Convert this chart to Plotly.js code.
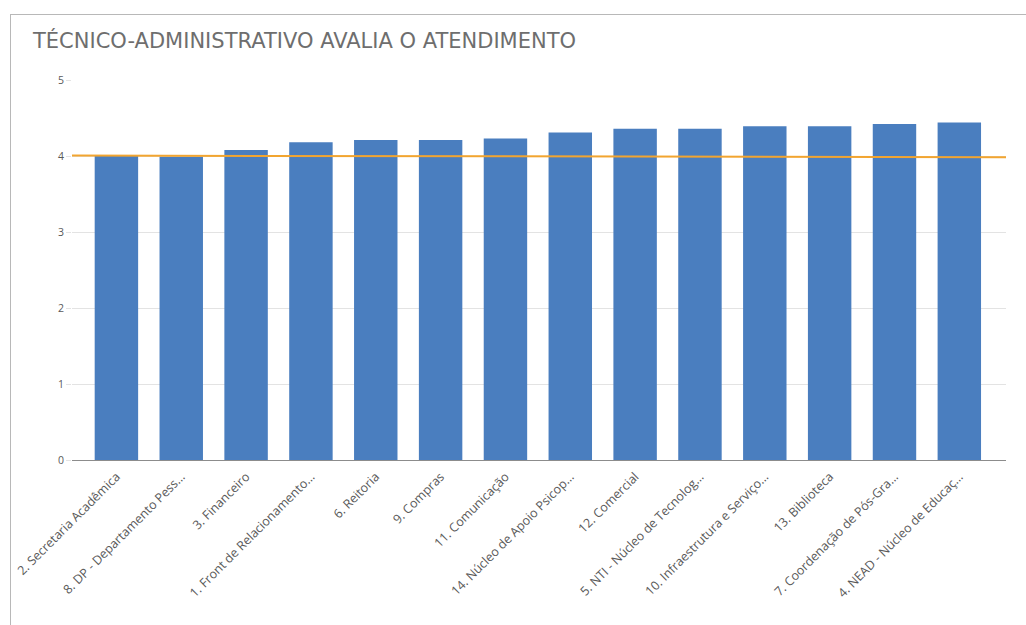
<!DOCTYPE html>
<html>
<head>
<meta charset="utf-8">
<script src="https://cdn.plot.ly/plotly-3.0.1.min.js"></script>
<style>
  html, body { margin: 0; padding: 0; background: #fff; }
  #wrap { position: relative; width: 1026px; height: 625px; }
  #chart { position: absolute; left: 0; top: 0; width: 1026px; height: 625px; }
  #frame { position: absolute; left: 10px; top: 14px; right: 0; bottom: 0;
           border-top: 1px solid #b8b8b8; border-left: 1px solid #b8b8b8; pointer-events: none; }
</style>
</head>
<body>
<div id="wrap">
  <div id="chart"></div>
  <div id="frame"></div>
</div>
<script>
const categories = [
  "2. Secretaria Acadêmica",
  "8. DP - Departamento Pess…",
  "3. Financeiro",
  "1. Front de Relacionamento…",
  "6. Reitoria",
  "9. Compras",
  "11. Comunicação",
  "14. Núcleo de Apoio Psicop…",
  "12. Comercial",
  "5. NTI - Núcleo de Tecnolog…",
  "10. Infraestrutura e Serviço…",
  "13. Biblioteca",
  "7. Coordenação de Pós-Gra…",
  "4. NEAD - Núcleo de Educaç…"
];
const scores = [4.00, 3.99, 4.08, 4.18, 4.21, 4.21, 4.23, 4.31, 4.36, 4.36, 4.39, 4.39, 4.42, 4.44];
const referenceX = [0, 1];
const referenceY = [4.005, 3.985];
const yTicks = [0, 1, 2, 3, 4, 5];
const titleText = "TÉCNICO-ADMINISTRATIVO AVALIA O ATENDIMENTO";

const xIdx = categories.map((c, i) => i);

const traces = [
  {
    type: 'bar',
    x: xIdx,
    y: scores,
    marker: { color: '#4a7ebf' },
    hoverinfo: 'skip'
  },
  {
    type: 'scatter',
    mode: 'lines',
    x: referenceX,
    y: referenceY,
    xaxis: 'x2',
    yaxis: 'y',
    line: { color: '#f2a530', width: 2 },
    hoverinfo: 'skip'
  }
];

const layout = {
  width: 1026,
  height: 625,
  autosize: false,
  paper_bgcolor: 'rgba(0,0,0,0)',
  plot_bgcolor: 'rgba(0,0,0,0)',
  showlegend: false,
  bargap: 0.33,
  margin: { l: 72, r: 20, t: 80, b: 165, pad: 0 },
  font: { family: 'Open Sans, sans-serif', color: '#595959' },
  title: {
    text: titleText,
    xref: 'container', yref: 'container',
    x: 33 / 1026, xanchor: 'left',
    y: 1 - 41 / 625, yanchor: 'middle',
    font: { family: 'DejaVu Sans, sans-serif', size: 21, color: '#6e6e6e' }
  },
  xaxis: {
    range: [-0.685, 13.72],
    tickmode: 'array',
    tickvals: xIdx,
    ticktext: categories,
    tickangle: -45,
    tickfont: { size: 12.5, color: '#595959' },
    ticklabelstandoff: 6,
    showgrid: false,
    zeroline: false,
    showline: false,
    ticks: ''
  },
  xaxis2: {
    overlaying: 'x',
    range: [0, 1],
    visible: false
  },
  yaxis: {
    range: [0, 5],
    tickvals: yTicks,
    tickfont: { size: 10.5, color: '#595959' },
    showgrid: true,
    gridcolor: '#e3e3e3',
    gridwidth: 1,
    zeroline: true,
    zerolinecolor: '#8c8c8c',
    zerolinewidth: 1,
    ticks: 'outside',
    ticklen: 5,
    tickcolor: '#e3e3e3',
    showline: false
  }
};

Plotly.newPlot('chart', traces, layout, { displayModeBar: false, staticPlot: true });
</script>
</body>
</html>
